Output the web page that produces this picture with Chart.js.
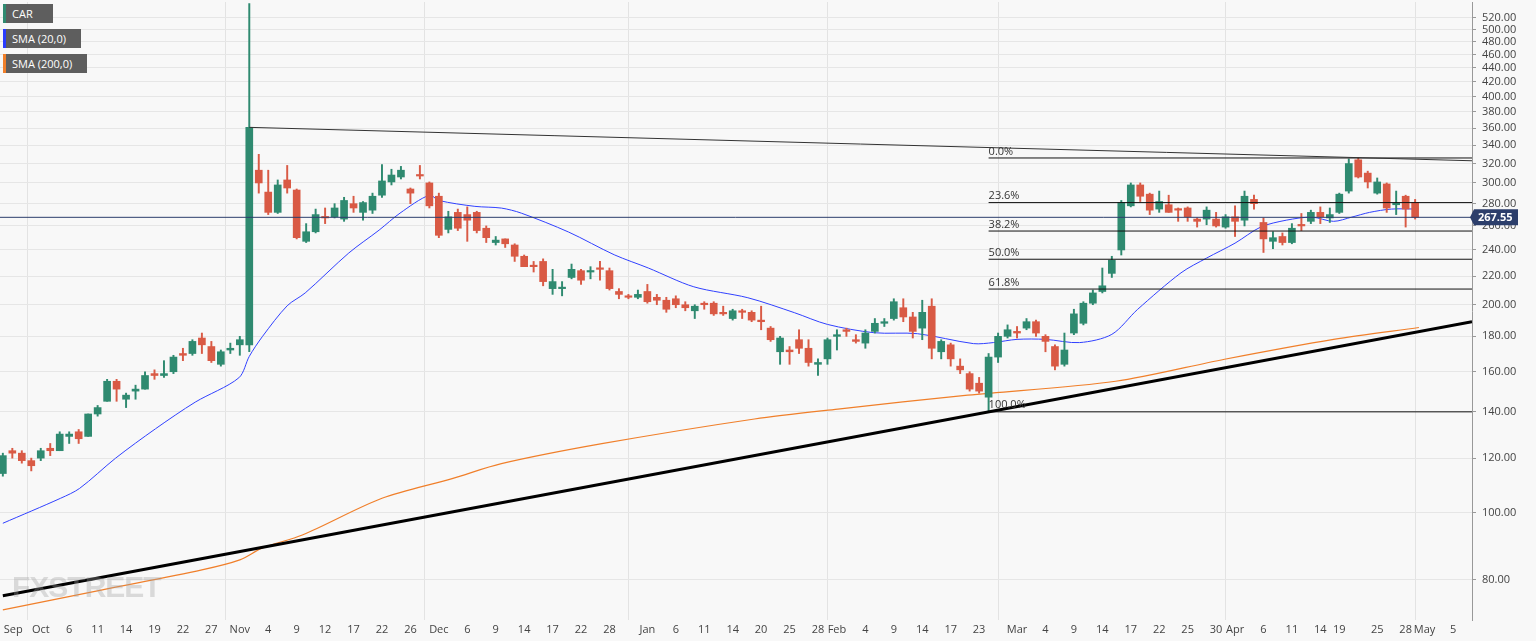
<!DOCTYPE html>
<html><head><meta charset="utf-8">
<script src="https://cdn.jsdelivr.net/npm/chart.js@4.4.0/dist/chart.umd.min.js"></script>
<style>
html,body{margin:0;padding:0;background:#f8f8f8;font-family:"Open Sans",Arial,sans-serif;}
#wrap{position:relative;width:1536px;height:641px;}
canvas{position:absolute;left:0;top:0;}
.lg{position:absolute;left:3px;height:19px;background:#5e5e5e;color:#fff;font-size:11px;line-height:19px;padding:0 8px 0 9px;box-sizing:border-box;}
.lg i{position:absolute;left:0;top:0;bottom:0;width:3px;}
#wm{position:absolute;left:12px;top:570px;font-size:30px;font-weight:bold;color:rgba(160,160,160,0.35);letter-spacing:-1px;font-family:"Liberation Sans",Arial;}
</style></head><body>
<div id="wrap"><canvas id="c" width="1536" height="641"></canvas>
<div class="lg" style="top:4px;width:50px"><i style="background:#2f8a70"></i>CAR</div>
<div class="lg" style="top:29px;width:78px"><i style="background:#2a3cff"></i>SMA (20,0)</div>
<div class="lg" style="top:54px;width:84px"><i style="background:#f07f2a"></i>SMA (200,0)</div>
<div id="wm">FXSTREET</div>
</div>
<script>
// OHLC per trading day, index 0 = 27 Sep 2021
const opens  = [114,123,122,119,120,124,123,129,131,129,139,145,155,146,150,151,159,158,160,170,170,179,174,164,172,175,175,313,291,272,303,293,247,255,268,268,266,280,272,274,288,301,306,294,308,300,287,257,272,270,272,258,246,249,244,235,228,231,211,211,219,224,223,226,224,209,206,205,209,205,203,204,200,196,201,201,195,191,196,195,190,185,171,172,178,173,164,167,180,184,178,176,183,188,191,198,192,185,199,171,175,163,159,154,147,168,180,183,185,189,180,174,164,182,188,201,209,222,240,278,298,289,275,279,275,276,266,266,266,259,268,265,284,263,247,251,246,261,264,272,267,272,292,324,310,290,299,279,287,281];
const closes = [121,122,119,117,123,123,130,130,128,139,142,155,151,148,151,158,158,159,168,169,177,175,166,171,173,178,361,300,272,298,295,250,255,270,267,276,283,276,281,287,302,308,313,290,307,278,252,268,258,265,256,250,248,245,235,227,227,216,216,212,225,217,224,225,211,207,205,207,202,203,197,200,198,199,200,194,194,196,195,190,189,178,179,171,173,165,165,178,181,183,177,182,188,189,202,192,183,195,173,177,167,161,151,150,168,180,184,182,189,182,177,163,172,194,201,208,213,232,281,298,287,274,282,272,274,268,264,274,260,268,264,287,280,249,250,246,258,260,272,268,270,289,320,306,301,301,276,280,275,267.55];
const highs  = [122,124,123,120,124,126,131,131,132,139,143,156,156,149,153,160,161,166,169,173,178,182,177,172,176,180,545,330,313,303,318,294,262,275,276,280,286,287,282,290,319,314,317,295,318,301,290,273,275,277,273,260,251,249,245,236,231,233,225,216,229,225,227,231,226,211,207,210,214,207,205,206,202,200,202,202,199,197,197,196,199,186,180,174,184,178,167,179,184,185,181,184,191,191,204,204,195,203,204,178,176,167,160,157,170,182,187,186,191,190,181,175,182,197,202,210,226,235,283,300,300,290,292,288,276,277,267,277,272,270,278,292,288,267,255,254,262,271,274,277,276,290,325,326,312,305,300,292,288,284];
const lows   = [113,120,118,115,119,121,123,126,126,129,138,145,145,142,146,151,156,157,159,166,169,170,165,163,170,169,171,290,270,271,290,249,246,254,262,267,264,272,265,271,286,298,304,280,304,276,250,254,256,247,254,246,244,242,231,227,223,213,207,206,218,214,218,217,210,204,204,204,201,200,195,198,196,191,197,193,193,190,191,189,184,177,164,164,170,163,158,164,172,180,176,173,182,186,190,189,179,178,167,167,163,159,150,149,140,165,179,179,184,180,171,161,163,181,187,200,208,219,236,277,282,270,272,272,264,264,259,261,259,258,251,260,275,238,241,244,245,256,262,262,263,271,290,305,295,289,272,270,259,266];

// SMA readings: [index, value]
const sma20Idx = [0,6.1,8.1,11.9,16.1,20.3,24.9,26,27.4,30,31.9,36.5,39.7,41.9,45,46,49.8,52.6,54.7,59.7,64.5,68.1,72.9,78.6,83.5,87,91.9,96.5,102.4,104.5,107,110,113.6,117,119.7,124.3,127,130,132.7,135.4,138.1,140.4,142.3,144.2,146.5,149.4];
const sma20Val = [96.6,105,108.5,120,132.3,144.6,156.8,168.4,180,199.3,208,237.6,256.4,271.3,288,283,277.5,275.9,271.3,254.7,236.2,226,212.3,204.7,194.8,187.3,182.2,181.6,175.7,176.3,178.2,178.2,176.3,181.2,196.8,222.4,233.6,245.5,259,265,267.7,264,267.7,272,275,275];
const sma200Idx = [0,10.5,21,25,27.4,31.6,40,47.4,52.6,63.2,79.3,88.1,101.8,117.4,128.9,140.4,149.4];
const sma200Val = [72.4,77.4,82.7,85.5,89,92.9,105,112.1,117.8,125.9,136.7,141.3,148,155,166.8,178.2,185.4];

const supportLine = [[0,75.9],[155,189]];
const resistLine  = [[26,361],[155,323]];
const fibLevels = [326,281,255.6,232.7,210.7,140];
const fibLabels = ['0.0%','23.6%','38.2%','50.0%','61.8%','100.0%'];
const fibStart = 104, xEnd = 155;
const lastPrice = 267.55;

const tickIdx = [1.1,4,7,10,13,16,19,22,25,28,31,34,37,40,43,46,49,52,55,58,61,64,68,71,74,77,80,83,86,88,91,94,97,100,103,107,110,113,116,119,122,125,128,130,133,136,139,141,145,148,150,153];
const tickLab = ['Sep','Oct','6','11','14','19','22','27','Nov','4','9','12','17','22','26','Dec','6','9','14','17','22','28','Jan','6','11','14','20','25','28','Feb','4','9','14','17','23','Mar','4','9','14','17','22','25','30','Apr','6','11','14','19','25','28','May','5'];
const monthSet = new Set(['Oct','Nov','Dec','Jan','Feb','Mar','Apr','May']);
const yTicks = []; for (let v=80; v<=520; v+=20) yTicks.push(v);

const GREEN='#2f8a70', RED='#d95a45';
const col = opens.map((o,i)=> closes[i]>=o ? GREEN : RED);

const datasets = [
 {type:'line', data:sma200Idx.map((x,i)=>({x,y:sma200Val[i]})), borderColor:'#f07f2a', borderWidth:1.2, pointRadius:0, order:5, tension:0.3},
 {type:'line', data:sma20Idx.map((x,i)=>({x,y:sma20Val[i]})), borderColor:'#3040ff', borderWidth:1, pointRadius:0, order:4, tension:0.3},
 {type:'bar', data:opens.map((o,i)=>({x:i,y:[lows[i],highs[i]]})), backgroundColor:col, barThickness:1.3, grouped:false, order:3},
 {type:'bar', data:opens.map((o,i)=>({x:i,y:[o,closes[i]]})), backgroundColor:col, borderColor:col, borderWidth:0, barThickness:7, minBarLength:1.5, grouped:false, order:2},
 {type:'line', data:[{x:-1,y:lastPrice},{x:xEnd,y:lastPrice}], borderColor:'#2c3e6b', borderWidth:1, pointRadius:0, order:1},
 {type:'line', data:supportLine.map(p=>({x:p[0],y:p[1]})), borderColor:'#000', borderWidth:3, pointRadius:0, order:0},
 {type:'line', data:resistLine.map(p=>({x:p[0],y:p[1]})), borderColor:'#333', borderWidth:1, pointRadius:0, order:0},
];
fibLevels.forEach(v=>datasets.push({type:'line', data:[{x:fibStart,y:v},{x:xEnd,y:v}], borderColor:'#111', borderWidth:1, pointRadius:0, order:0}));

const overlay = {
 id:'overlay',
 afterDatasetsDraw(ch){
  const c=ch.ctx, xs=ch.scales.x, ys=ch.scales.y;
  c.save();
  c.font='11px "Open Sans", Arial'; c.fillStyle='#333'; c.textBaseline='bottom';
  fibLevels.forEach((v,i)=>{
    const px=xs.getPixelForValue(fibStart), py=ys.getPixelForValue(v);
    c.fillText(fibLabels[i], px, py-1);
  });
  const py=ys.getPixelForValue(lastPrice), x0=ch.chartArea.right+2;
  c.fillStyle='#2c3e6b';
  c.beginPath(); c.moveTo(x0-4,py); c.lineTo(x0,py-8); c.lineTo(x0+44,py-8); c.lineTo(x0+44,py+8); c.lineTo(x0,py+8); c.closePath(); c.fill();
  c.fillStyle='#fff'; c.font='bold 11px "Open Sans", Arial'; c.textBaseline='middle';
  c.fillText(lastPrice.toFixed(2), x0+4, py+1);
  c.restore();
 }
};

function noPad(s){ s.paddingLeft=0; s.paddingRight=0; s.paddingTop=0; s.paddingBottom=0; }

new Chart(document.getElementById('c'), {
 data:{datasets},
 options:{
  responsive:false, animation:false, devicePixelRatio:1,
  layout:{autoPadding:false, padding:{top:2,left:0,right:0,bottom:0}},
  plugins:{legend:{display:false}, tooltip:{enabled:false}},
  scales:{
   x:{type:'linear', min:-0.3, max:xEnd, offset:false,
      afterBuildTicks(s){ s.ticks = tickIdx.map(v=>({value:v})); },
      afterFit(s){ s.height=21; noPad(s); },
      ticks:{autoSkip:false, maxRotation:0, color:'#444', font:{size:11, family:'"Open Sans", Arial'}, padding:3,
        callback(v){ const k=tickIdx.indexOf(v); return k>=0?tickLab[k]:''; }},
      grid:{color(ctx){ const k=tickIdx.indexOf(ctx.tick && ctx.tick.value); return (k>=0 && monthSet.has(tickLab[k]))?'#e3e3e3':'rgba(0,0,0,0)'; }, drawTicks:false},
      border:{display:false}},
   y:{type:'logarithmic', position:'right', min:70, max:548,
      afterBuildTicks(s){ s.ticks = yTicks.map(v=>({value:v})); },
      afterFit(s){ s.width=64; noPad(s); },
      ticks:{autoSkip:false, color:'#444', font:{size:11, family:'"Open Sans", Arial'}, padding:6, callback:v=>Number(v).toFixed(2)},
      grid:{color:'#e6e6e6', drawTicks:true, tickLength:4, tickColor:'#999'},
      border:{display:true, color:'#999'}}
  }
 },
 plugins:[overlay]
});
</script>
</body></html>
